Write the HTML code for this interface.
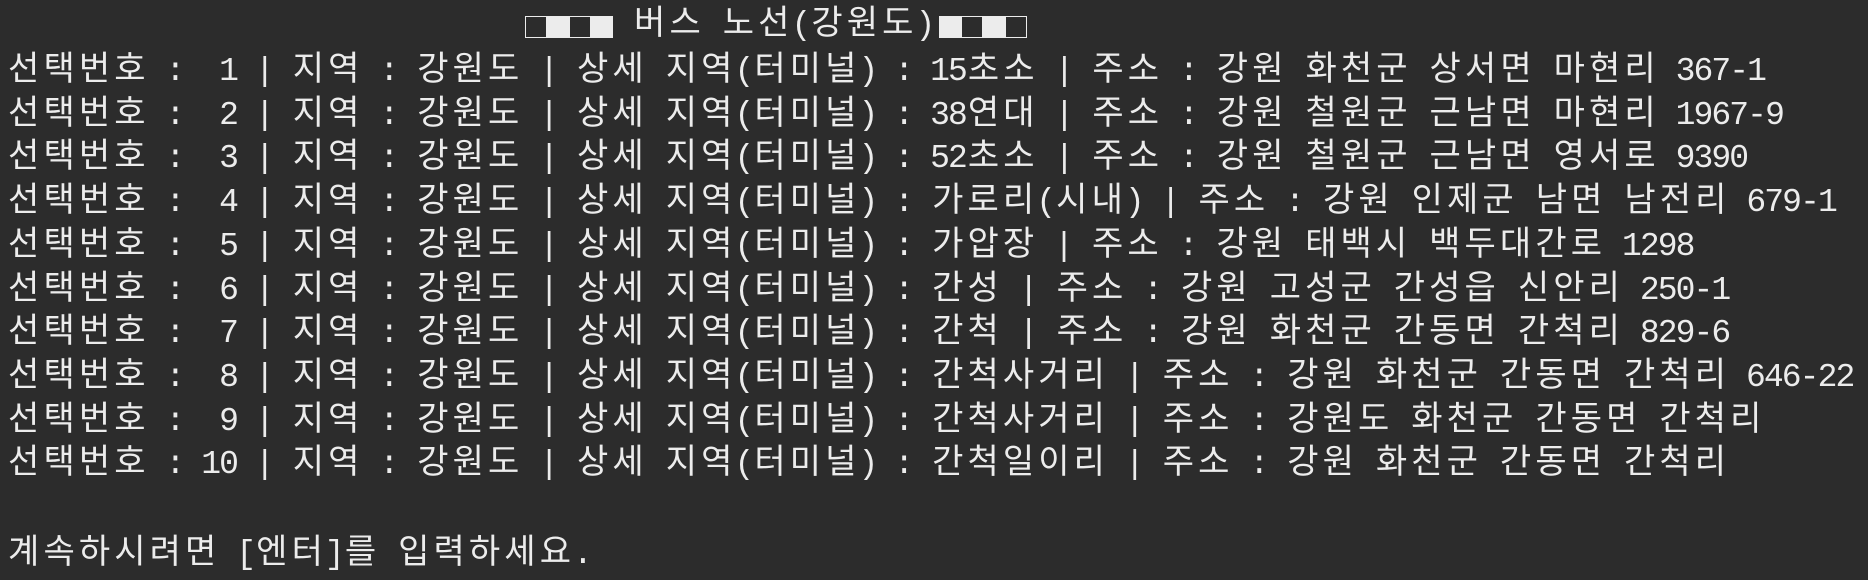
<!DOCTYPE html>
<html><head><meta charset="utf-8">
<style>
html,body{margin:0;padding:0;background:#2c2c2c;}
body{width:1868px;height:580px;overflow:hidden;position:relative;font-family:"Liberation Mono","Noto Sans CJK KR",monospace;font-size:33px;color:#ececec;}
.ln{position:absolute;left:6px;height:44px;line-height:44px;white-space:pre;}
.c{display:inline-block;text-align:center;width:17.9px;white-space:pre;}
.w{width:35.4px;font-size:34px;}
.box{position:absolute;top:16px;height:22px;}
.box span{display:inline-block;width:22px;height:22px;border:1px solid #ececec;vertical-align:top;box-sizing:border-box;}
.box span.f{background:#ececec;}
</style></head>
<body>
<div class="box" style="left:525px"><span></span><span class="f"></span><span></span><span class="f"></span></div>
<div class="box" style="left:939px"><span class="f"></span><span></span><span class="f"></span><span></span></div>
<div class="ln" id="title" style="top:4px;left:632px">버스 노선(강원도)</div>
<div class="ln row">선택번호 :  1 | 지역 : 강원도 | 상세 지역(터미널) : 15초소 | 주소 : 강원 화천군 상서면 마현리 367-1</div>
<div class="ln row">선택번호 :  2 | 지역 : 강원도 | 상세 지역(터미널) : 38연대 | 주소 : 강원 철원군 근남면 마현리 1967-9</div>
<div class="ln row">선택번호 :  3 | 지역 : 강원도 | 상세 지역(터미널) : 52초소 | 주소 : 강원 철원군 근남면 영서로 9390</div>
<div class="ln row">선택번호 :  4 | 지역 : 강원도 | 상세 지역(터미널) : 가로리(시내) | 주소 : 강원 인제군 남면 남전리 679-1</div>
<div class="ln row">선택번호 :  5 | 지역 : 강원도 | 상세 지역(터미널) : 가압장 | 주소 : 강원 태백시 백두대간로 1298</div>
<div class="ln row">선택번호 :  6 | 지역 : 강원도 | 상세 지역(터미널) : 간성 | 주소 : 강원 고성군 간성읍 신안리 250-1</div>
<div class="ln row">선택번호 :  7 | 지역 : 강원도 | 상세 지역(터미널) : 간척 | 주소 : 강원 화천군 간동면 간척리 829-6</div>
<div class="ln row">선택번호 :  8 | 지역 : 강원도 | 상세 지역(터미널) : 간척사거리 | 주소 : 강원 화천군 간동면 간척리 646-22</div>
<div class="ln row">선택번호 :  9 | 지역 : 강원도 | 상세 지역(터미널) : 간척사거리 | 주소 : 강원도 화천군 간동면 간척리</div>
<div class="ln row">선택번호 : 10 | 지역 : 강원도 | 상세 지역(터미널) : 간척일이리 | 주소 : 강원 화천군 간동면 간척리</div>
<div class="ln" style="top:533px">계속하시려면 [엔터]를 입력하세요.</div>
<script>
document.querySelectorAll('.row').forEach(function(el,i){
  el.style.top=(50+i*43.7)+'px';
});
document.querySelectorAll('.ln').forEach(function(el){
  var t=el.textContent;el.textContent='';
  for(var i=0;i<t.length;i++){
    var ch=t[i];var s=document.createElement('span');
    s.className='c'+(ch.charCodeAt(0)>255?' w':'');
    s.textContent=ch;el.appendChild(s);
  }
});
</script>
</body></html>
